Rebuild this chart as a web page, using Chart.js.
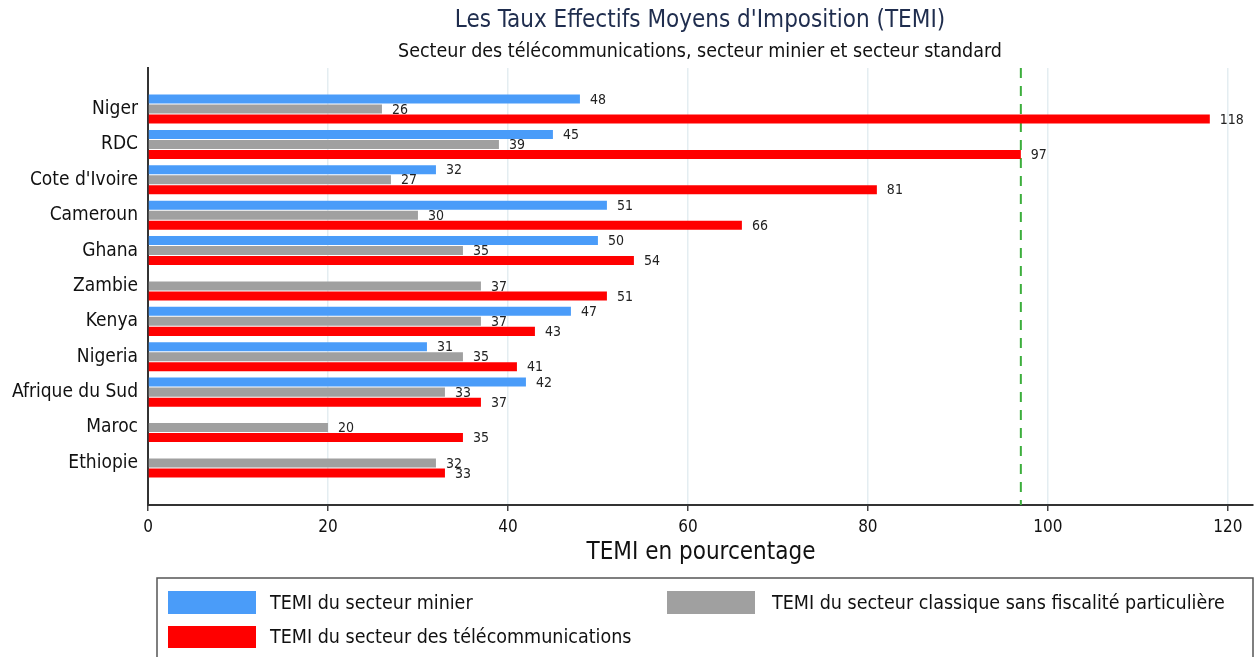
<!DOCTYPE html>
<html>
<head>
<meta charset="utf-8">
<script src="https://cdn.jsdelivr.net/npm/chart.js@4.4.0/dist/chart.umd.min.js"></script>
<style>
  html, body { margin: 0; padding: 0; background: #ffffff; }
  #wrap { width: 1258px; height: 657px; position: relative; }
</style>
</head>
<body>
<div id="wrap"><canvas id="c" width="1258" height="657"></canvas></div>
<script>
const categories = ["Niger", "RDC", "Cote d'Ivoire", "Cameroun", "Ghana", "Zambie", "Kenya", "Nigeria", "Afrique du Sud", "Maroc", "Ethiopie"];
const minier = [48, 45, 32, 51, 50, null, 47, 31, 42, null, null];
const classique = [26, 39, 27, 30, 35, 37, 37, 35, 33, 20, 32];
const telecom = [118, 97, 81, 66, 54, 51, 43, 41, 37, 35, 33];
const xTicks = [0, 20, 40, 60, 80, 100, 120];
const referenceLine = 97;
const seriesNames = ["TEMI du secteur minier", "TEMI du secteur classique sans fiscalité particulière", "TEMI du secteur des télécommunications"];
const titleText = "Les Taux Effectifs Moyens d'Imposition (TEMI)";
const subtitleText = "Secteur des télécommunications, secteur minier et secteur standard";
const xAxisTitle = "TEMI en pourcentage";

const FONT = "'DejaVu Sans Condensed', 'DejaVu Sans', sans-serif";
const colors = ['#4a9cf9', '#a0a0a0', '#ff0000'];

function toPoints(arr) { return arr.map((v, i) => ({ x: v, y: i })); }

const decorPlugin = {
  id: 'decor',
  beforeDatasetsDraw(chart) {
    const ctx = chart.ctx, xs = chart.scales.x, area = chart.chartArea;
    const px = xs.getPixelForValue(referenceLine);
    ctx.save();
    ctx.strokeStyle = '#3cae3c';
    ctx.lineWidth = 2;
    ctx.setLineDash([10, 8]);
    ctx.beginPath();
    ctx.moveTo(px, area.top);
    ctx.lineTo(px, area.bottom);
    ctx.stroke();
    ctx.restore();
  },
  afterDatasetsDraw(chart) {
    const ctx = chart.ctx;
    ctx.save();
    ctx.font = '14px ' + FONT;
    ctx.fillStyle = '#222';
    ctx.textAlign = 'left';
    ctx.textBaseline = 'middle';
    chart.data.datasets.forEach((ds, di) => {
      const meta = chart.getDatasetMeta(di);
      meta.data.forEach((bar, i) => {
        const v = ds.data[i].x;
        if (v === null || v === undefined) return;
        ctx.fillText(String(v), bar.x + 10, bar.y + 1);
      });
    });
    ctx.restore();
  },
  afterDraw(chart) {
    const ctx = chart.ctx;
    ctx.save();
    ctx.textAlign = 'center';
    ctx.textBaseline = 'middle';
    ctx.fillStyle = '#1f2d4e';
    ctx.font = '24px ' + FONT;
    ctx.fillText(titleText, 700, 21);
    ctx.fillStyle = '#111';
    ctx.font = '19.5px ' + FONT;
    ctx.fillText(subtitleText, 700, 52);
    ctx.font = '24px ' + FONT;
    ctx.fillText(xAxisTitle, 701, 553);

    // legend
    ctx.strokeStyle = '#555';
    ctx.lineWidth = 1.5;
    ctx.strokeRect(157, 578, 1096, 90);
    const items = [
      { x: 168, y: 591, h: 23, tx: 270 },
      { x: 667, y: 591, h: 23, tx: 772 },
      { x: 168, y: 626, h: 22, tx: 270 }
    ];
    ctx.textAlign = 'left';
    ctx.font = '19.5px ' + FONT;
    chart.data.datasets.forEach((ds, di) => {
      const it = items[di];
      ctx.fillStyle = ds.backgroundColor;
      ctx.fillRect(it.x, it.y, 88, it.h);
      ctx.fillStyle = '#111';
      ctx.fillText(ds.label, it.tx, it.y + it.h / 2 + 1);
    });
    ctx.restore();
  }
};

new Chart(document.getElementById('c'), {
  type: 'bar',
  data: {
    datasets: [
      { label: seriesNames[0], data: toPoints(minier), backgroundColor: colors[0] },
      { label: seriesNames[1], data: toPoints(classique), backgroundColor: colors[1] },
      { label: seriesNames[2], data: toPoints(telecom), backgroundColor: colors[2] }
    ]
  },
  options: {
    indexAxis: 'y',
    responsive: false,
    animation: false,
    devicePixelRatio: 1,
    categoryPercentage: 0.85,
    barPercentage: 0.9,
    layout: { padding: { top: 68, right: 5, left: 0, bottom: 0 } },
    plugins: { legend: { display: false }, tooltip: { enabled: false }, title: { display: false } },
    scales: {
      x: {
        type: 'linear',
        bounds: 'data',
        offset: false,
        min: 0,
        max: 122.8,
        afterBuildTicks: (s) => { s.ticks = xTicks.map(v => ({ value: v })); },
        afterFit: (s) => { s.height = 152; },
        grid: { color: '#e4edf1', lineWidth: 1.5, tickColor: '#444', tickLength: 6, drawTicks: true },
        border: { color: '#333', width: 2 },
        ticks: { font: { size: 17, family: FONT }, color: '#111', padding: 6, maxRotation: 0 }
      },
      y: {
        type: 'linear',
        bounds: 'data',
        offset: false,
        reverse: true,
        min: -1.16,
        max: 11.19,
        afterBuildTicks: (s) => { s.ticks = categories.map((c, i) => ({ value: i })); },
        afterFit: (s) => { s.width = 148; },
        grid: { display: false, drawTicks: false, offset: false },
        border: { color: '#333', width: 2 },
        ticks: { font: { size: 19, family: FONT }, color: '#111', padding: 10, callback: (v) => categories[v] }
      }
    }
  },
  plugins: [decorPlugin]
});
</script>
</body>
</html>
